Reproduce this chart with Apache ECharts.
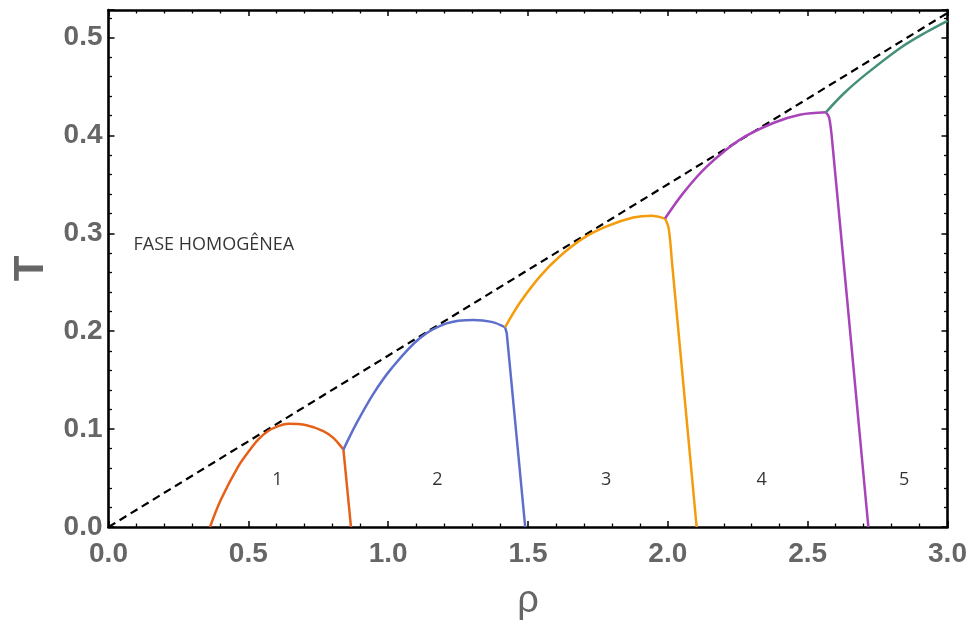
<!DOCTYPE html>
<html>
<head>
<meta charset="utf-8">
<script src="https://cdn.jsdelivr.net/npm/echarts@6/dist/echarts.min.js"></script>
<style>html,body{margin:0;padding:0;background:#fff;}#c{width:973px;height:626px;}</style>
</head>
<body>
<div id="c"></div>
<script>
// ---- data ----
var xTicks = [0, 0.5, 1.0, 1.5, 2.0, 2.5, 3.0];
var yTicks = [0, 0.1, 0.2, 0.3, 0.4, 0.5];
var dashedLine = [[0, 0], [3.0, 0.525]];
var orangeRise = [[0.363,0],[0.402,0.028],[0.464,0.062],[0.506,0.079],[0.536,0.0895],[0.571,0.098],[0.607,0.103],[0.643,0.1055],[0.708,0.104],[0.768,0.098],[0.804,0.091],[0.840,0.079]];
var orangeDrop = [[0.840,0.079],[0.867,0]];
var blueRise = [[0.840,0.079],[0.887,0.106],[0.947,0.136],[1.012,0.162],[1.114,0.193],[1.209,0.208],[1.304,0.2115],[1.37,0.2095],[1.418,0.204]];
var blueDrop = [[1.418,0.204],[1.424,0.198],[1.49,0]];
var amberRise = [[1.418,0.204],[1.471,0.229],[1.543,0.256],[1.614,0.2765],[1.698,0.295],[1.781,0.307],[1.876,0.316],[1.942,0.318],[1.99,0.315]];
var amberDrop = [[1.99,0.315],[2.003,0.305],[2.015,0.27],[2.103,0]];
var purpleRise = [[1.99,0.315],[2.055,0.341],[2.139,0.368],[2.258,0.3956],[2.377,0.4126],[2.472,0.421],[2.565,0.4235]];
var purpleDrop = [[2.565,0.4235],[2.577,0.418],[2.589,0.39],[2.717,0]];
var greenRise = [[2.565,0.4235],[2.63,0.443],[2.711,0.463],[2.83,0.489],[2.925,0.5055],[3.0,0.517]];
var regionNames = ['1','2','3','4','5'];
var regionX = [0.604, 1.176, 1.779, 2.335, 2.845];
var regionY = [0.048, 0.048, 0.048, 0.048, 0.048];
var phaseText = 'FASE HOMOGÊNEA';
var phasePos = [0.0876, 0.2885];

// ---- colors ----
var cOrange = '#E6601A', cBlue = '#5E6FCB', cAmber = '#F49C0C', cPurple = '#A843B9', cGreen = '#45907A';

var tickFont = {color:'#666', fontSize:28, fontWeight:'bold', fontFamily:'Liberation Sans, Arial, sans-serif'};
function baseX(pos, showLabels){
  return {type:'value', position:pos, min:0, max:3, interval:0.5,
    axisLine:{show:true, onZero:false, lineStyle:{color:'#000', width:2.6}},
    axisTick:{show:true, inside:true, length:6, lineStyle:{color:'#000', width:1.5}},
    minorTick:{show:true, splitNumber:5, length:3.5, lineStyle:{color:'#000', width:1.3}},
    splitLine:{show:false},
    axisLabel:Object.assign({show:showLabels, margin:13, formatter:function(v){return xTicks.indexOf(v)>=0? v.toFixed(1):'';}}, tickFont)
  };
}
function baseY(pos, showLabels){
  return {type:'value', position:pos, min:0, max:0.528, interval:0.1,
    axisLine:{show:true, onZero:false, lineStyle:{color:'#000', width:2.6}},
    axisTick:{show:true, inside:true, length:6, lineStyle:{color:'#000', width:1.5}},
    minorTick:{show:true, splitNumber:5, length:3.5, lineStyle:{color:'#000', width:1.3}},
    splitLine:{show:false},
    axisLabel:Object.assign({show:showLabels, margin:6, showMaxLabel:false, formatter:function(v){var r=Math.round(v*10)/10; return (Math.abs(r-v)<1e-9 && yTicks.indexOf(r)>=0)? r.toFixed(1):'';}}, tickFont)
  };
}
var xb = baseX('bottom', true);
xb.name = 'ρ'; xb.nameLocation='middle'; xb.nameGap=56;
xb.nameTextStyle = {color:'#666', fontSize:38, fontFamily:'Liberation Sans, Arial, sans-serif'};
var xt = baseX('top', false);
var yl = baseY('left', true);
yl.name = 'T'; yl.nameLocation='middle'; yl.nameGap=55;
yl.nameTextStyle = {color:'#666', fontSize:42, fontWeight:'bold', fontFamily:'Liberation Sans, Arial, sans-serif'};
var yr = baseY('right', false);

function curve(data, color, smooth){
  return {type:'line', data:data, xAxisIndex:0, yAxisIndex:0, showSymbol:false, symbol:'none', smooth:smooth?0.35:false,
    lineStyle:{color:color, width:2.5}, silent:true, z:3};
}
var regionData = regionNames.map(function(n,i){return {name:n, value:[regionX[i], regionY[i]]};});
var labelFont = {color:'#000', fontSize:18, fontFamily:'Open Sans, Noto Sans, sans-serif', textBorderWidth:0};

var option = {
  animation:false,
  backgroundColor:'#fff',
  grid:{left:108.5, right:25.5, top:10, bottom:98.3, show:false},
  xAxis:[xb, xt],
  yAxis:[yl, yr],
  series:[
    {type:'line', data:dashedLine, showSymbol:false, symbol:'none', lineStyle:{color:'#000', width:2.2, type:[8,5]}, z:2, silent:true},
    curve(orangeRise, cOrange, true), curve(orangeDrop, cOrange, false),
    curve(blueRise, cBlue, true), curve(blueDrop, cBlue, false),
    curve(amberRise, cAmber, true), curve(amberDrop, cAmber, true),
    curve(purpleRise, cPurple, true), curve(purpleDrop, cPurple, true),
    curve(greenRise, cGreen, true),
    {type:'scatter', data:regionData, symbolSize:1, itemStyle:{color:'rgba(0,0,0,0)'}, silent:true,
      label:Object.assign({show:true, position:'inside', formatter:'{b}'}, labelFont)},
    {type:'scatter', data:[{name:phaseText, value:phasePos}], symbolSize:1, itemStyle:{color:'rgba(0,0,0,0)'}, silent:true,
      label:Object.assign({show:true, position:'right', distance:0, formatter:'{b}'}, labelFont)}
  ]
};
var chart = echarts.init(document.getElementById('c'), null, {renderer:'canvas'});
chart.setOption(option);
</script>
</body>
</html>
